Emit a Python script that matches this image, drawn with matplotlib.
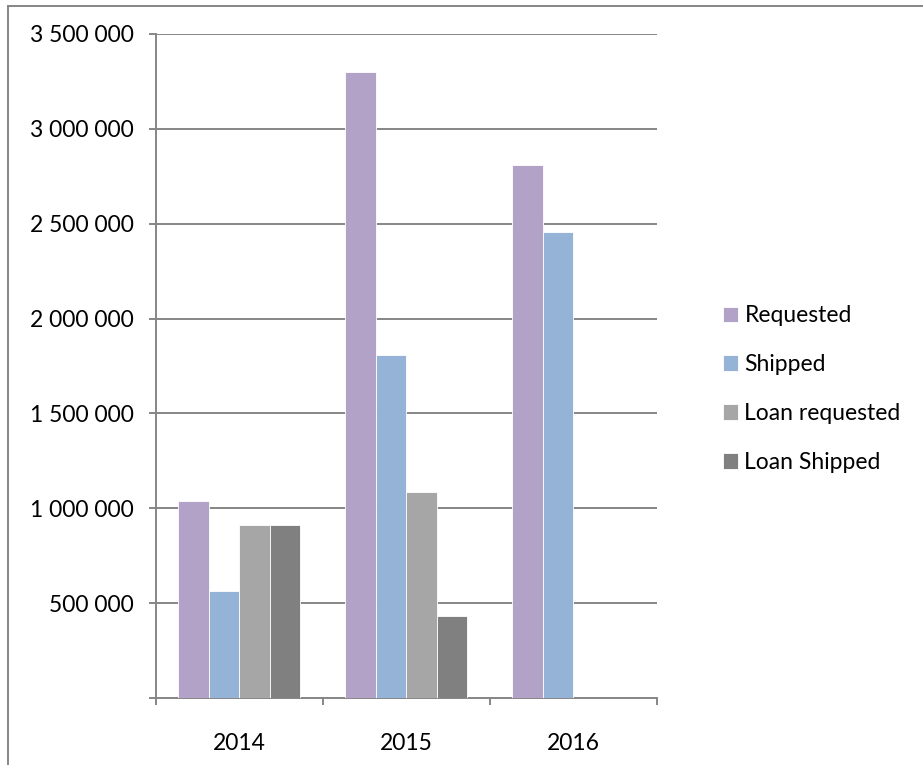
import matplotlib.pyplot as plt
from matplotlib.lines import Line2D
from matplotlib.ticker import FuncFormatter, MultipleLocator, FixedLocator
import numpy as np

plt.rcParams['font.family'] = ['Lato', 'DejaVu Sans']

years = ['2014', '2015', '2016']
requested = [1040000, 3300000, 2810000]
shipped = [565000, 1810000, 2458000]
loan_requested = [915000, 1086000, 0]
loan_shipped = [915000, 431000, 0]

series = [
    ('Requested', requested, '#B3A2C7'),
    ('Shipped', shipped, '#95B3D7'),
    ('Loan requested', loan_requested, '#A6A6A6'),
    ('Loan Shipped', loan_shipped, '#808080'),
]

grey = '#868686'
fs = 16.5
lw = 1.4

fig = plt.figure(figsize=(9.23, 7.65), dpi=100)
ax = fig.add_axes([0.1687, 0.0872, 0.7115 - 0.1687, 0.956 - 0.0872])

x = np.arange(len(years))
w = 0.182
handles = []
for i, (name, vals, col) in enumerate(series):
    b = ax.bar(x + (i - 1.5) * w, vals, w, color=col, edgecolor='white',
               linewidth=0.6, label=name, zorder=3)
    handles.append(b)

ax.set_xlim(-0.5, 2.5)
ax.set_ylim(0, 3500000)

# y axis: grid every 500 000, space as thousands separator, no label at 0
ax.yaxis.set_major_locator(MultipleLocator(500000))
ax.yaxis.set_major_formatter(FuncFormatter(
    lambda v, p: '' if v == 0 else f'{int(v):,}'.replace(',', ' ')))
ax.grid(axis='y', color=grey, linewidth=lw, zorder=0)
ax.tick_params(axis='y', length=5, width=lw, color=grey, pad=11,
               labelsize=fs)

# x axis: labels centred on groups, tick marks between groups
ax.set_xticks(x)
ax.set_xticklabels(years)
ax.xaxis.set_minor_locator(FixedLocator([-0.5, 0.5, 1.5, 2.5]))
ax.tick_params(axis='x', which='major', length=0, pad=25, labelsize=fs)
ax.tick_params(axis='x', which='minor', length=5, width=lw, color=grey)

for s in ['top', 'right']:
    ax.spines[s].set_visible(False)
for s in ['left', 'bottom']:
    ax.spines[s].set_color(grey)
    ax.spines[s].set_linewidth(lw)

leg = fig.legend(handles=handles, loc='upper left',
                 bbox_to_anchor=(0.773, 0.613), frameon=False, fontsize=fs,
                 handlelength=0.65, handleheight=0.65, handletextpad=0.3,
                 labelspacing=1.22, borderaxespad=0)

# chart frame (left and top edges)
fig.add_artist(Line2D([8 / 923, 8 / 923], [0, 1 - 5.5 / 765],
                      transform=fig.transFigure, color=grey, linewidth=lw))
fig.add_artist(Line2D([8 / 923, 1], [1 - 5.5 / 765, 1 - 5.5 / 765],
                      transform=fig.transFigure, color=grey, linewidth=lw))

fig.savefig('out.png', dpi=100)
